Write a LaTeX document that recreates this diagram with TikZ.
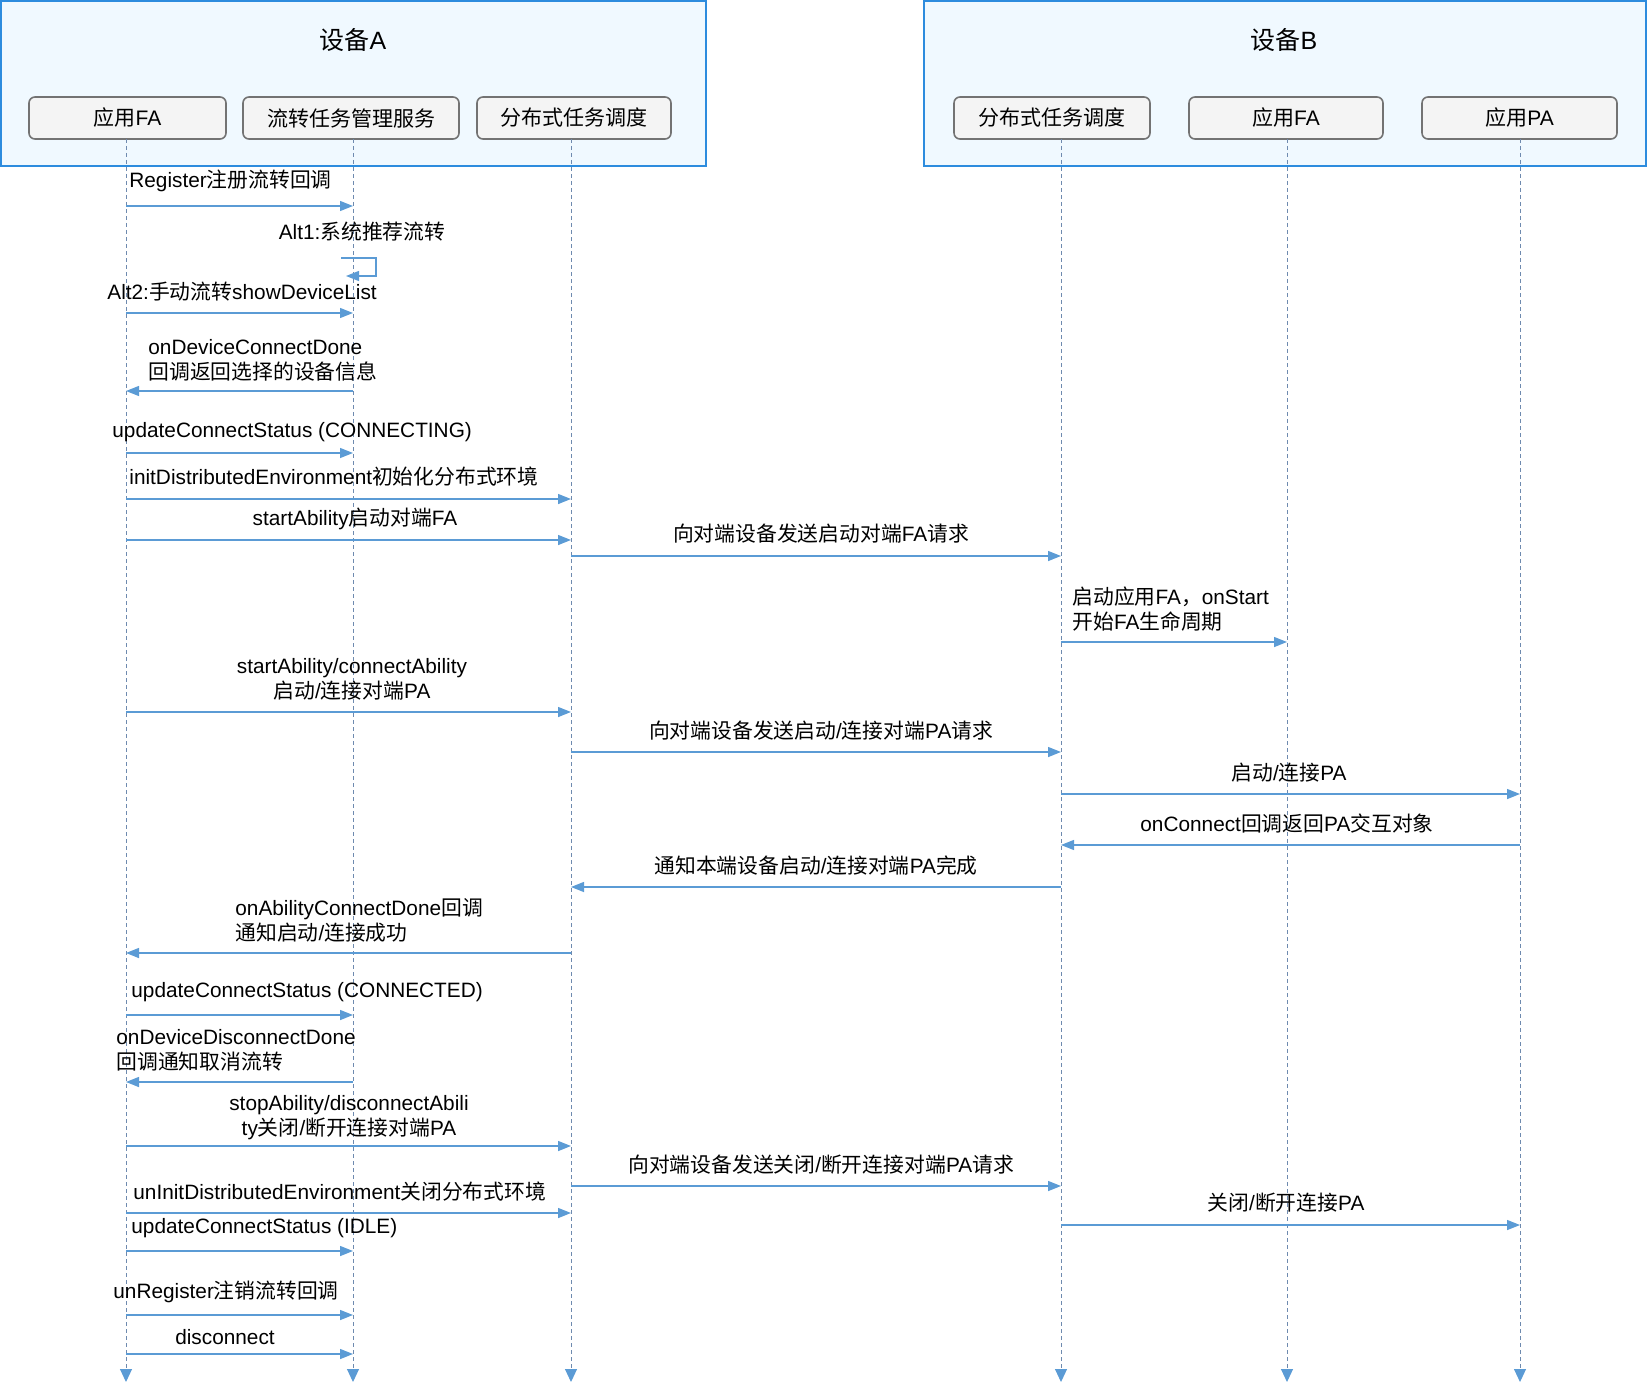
\documentclass[tikz,border=0pt]{standalone}
\usepackage{fontspec}
\setmainfont{Liberation Sans}
\newfontfamily\cjkfont{Noto Sans CJK SC}
\usetikzlibrary{arrows.meta}

% switch to the CJK font for Chinese characters
\XeTeXinterchartokenstate=1
\newXeTeXintercharclass\cjkclass
\newcount\cjkcnt
\cjkcnt="4E00
\loop\XeTeXcharclass\cjkcnt=\cjkclass\advance\cjkcnt by 1 \ifnum\cjkcnt<"A000 \repeat
\XeTeXcharclass"FF0C=\cjkclass
\XeTeXinterchartoks 0 \cjkclass={\cjkfont}
\XeTeXinterchartoks 4095 \cjkclass={\cjkfont}
\XeTeXinterchartoks \cjkclass 0={\normalfont}
\XeTeXinterchartoks \cjkclass 4095={\normalfont}

\definecolor{boxblue}{RGB}{45,140,222}
\definecolor{boxfill}{RGB}{240,249,255}
\definecolor{actgray}{RGB}{115,115,115}
\definecolor{actfill}{RGB}{244,244,244}
\definecolor{msgblue}{RGB}{91,155,213}
\definecolor{lifegray}{RGB}{110,138,175}

\newcommand\msgfont{\fontsize{10.4pt}{12.5pt}\selectfont}
\newcommand\actfont{\fontsize{10.5pt}{12.5pt}\selectfont}
\newcommand\devfont{\fontsize{12.5pt}{15pt}\selectfont}

\tikzset{
  device/.style={draw=boxblue,fill=boxfill,line width=1pt},
  actor/.style={draw=actgray,fill=actfill,line width=0.8pt,rounded corners=3pt,
    minimum height=21pt,inner sep=0pt,font=\actfont},
  life/.style={draw=lifegray,line width=0.5pt,dash pattern=on 2pt off 1.5pt,
    -{Triangle[length=6.5pt,width=6pt,color=msgblue]}},
  msg/.style={draw=msgblue,line width=0.7pt,-{Triangle[length=6.5pt,width=5pt]}},
  lbl/.style={font=\msgfont,inner sep=0pt},
  lbll/.style={lbl,anchor=west,align=left},
}

\begin{document}
\begin{tikzpicture}[x=0.5pt,y=-0.5pt]
  \useasboundingbox (0,0) rectangle (1647,1396);

  % devices
  \draw[device] (1,1) rectangle (706,166);
  \draw[device] (924,1) rectangle (1646,166);
  \node[font=\devfont] (devA) at (353,40) {设备A};
  \node[font=\devfont] (devB) at (1284,40) {设备B};

  \node[actor,minimum width=98.5pt] (faA)  at (127.5,118) {应用FA};
  \node[actor,minimum width=108pt]  (tmsA) at (351,118)   {流转任务管理服务};
  \node[actor,minimum width=97pt]   (dmsA) at (574,118)   {分布式任务调度};
  \node[actor,minimum width=98pt]   (dmsB) at (1052,118)  {分布式任务调度};
  \node[actor,minimum width=97pt]   (faB)  at (1286,118)  {应用FA};
  \node[actor,minimum width=97.5pt] (paB)  at (1519.5,118) {应用PA};

  % lifelines
  \coordinate (a1) at (126,139);
  \coordinate (a2) at (353,139);
  \coordinate (a3) at (571,139);
  \coordinate (b1) at (1061,139);
  \coordinate (b2) at (1287,139);
  \coordinate (b3) at (1520,139);
  \foreach \l in {a1,a2,a3,b1,b2,b3}
    \draw[life] (\l) -- (\l |- 0,1382);

  % messages
  \node[lbll] (m1) at (129,181) {Register注册流转回调};
  \draw[msg] (a1 |- 0,206) -- (a2 |- 0,206);

  \node[lbl] (m2) at (362,232) {Alt1:系统推荐流转};
  \draw[msg] (a2 |- 0,258) ++(-12,0) -- ++(35,0) -- ++(0,18) -- ++(-30,0);

  \node[lbll] (m3) at (107,292) {Alt2:手动流转showDeviceList};
  \draw[msg] (a1 |- 0,313) -- (a2 |- 0,313);

  \node[lbll] (m4) at (148,360) {onDeviceConnectDone\\回调返回选择的设备信息};
  \draw[msg] (a2 |- 0,391) -- (a1 |- 0,391);

  \node[lbll] (m5) at (112,432) {updateConnectStatus (CONNECTING)};
  \draw[msg] (a1 |- 0,453) -- (a2 |- 0,453);

  \node[lbll] (m6) at (129,477) {initDistributedEnvironment初始化分布式环境};
  \draw[msg] (a1 |- 0,499) -- (a3 |- 0,499);

  \node[lbl] (m7) at (355,519) {startAbility启动对端FA};
  \draw[msg] (a1 |- 0,540) -- (a3 |- 0,540);

  \node[lbl] (m8) at (821,534) {向对端设备发送启动对端FA请求};
  \draw[msg] (a3 |- 0,556) -- (b1 |- 0,556);

  \node[lbll] (m9) at (1072,609) {启动应用FA，onStart\\开始FA生命周期};
  \draw[msg] (b1 |- 0,642) -- (b2 |- 0,642);

  \node[lbl,align=center] (m10) at (352,679) {startAbility/connectAbility\\启动/连接对端PA};
  \draw[msg] (a1 |- 0,712) -- (a3 |- 0,712);

  \node[lbl] (m11) at (821,731) {向对端设备发送启动/连接对端PA请求};
  \draw[msg] (a3 |- 0,752) -- (b1 |- 0,752);

  \node[lbl] (m12) at (1289,773) {启动/连接PA};
  \draw[msg] (b1 |- 0,794) -- (b3 |- 0,794);

  \node[lbl] (m13) at (1287,824) {onConnect回调返回PA交互对象};
  \draw[msg] (b3 |- 0,845) -- (b1 |- 0,845);

  \node[lbl] (m14) at (816,866) {通知本端设备启动/连接对端PA完成};
  \draw[msg] (b1 |- 0,887) -- (a3 |- 0,887);

  \node[lbll] (m15) at (235,920) {onAbilityConnectDone回调\\通知启动/连接成功};
  \draw[msg] (a3 |- 0,953) -- (a1 |- 0,953);

  \node[lbll] (m16) at (131,992) {updateConnectStatus (CONNECTED)};
  \draw[msg] (a1 |- 0,1015) -- (a2 |- 0,1015);

  \node[lbll] (m17) at (116,1050) {onDeviceDisconnectDone\\回调通知取消流转};
  \draw[msg] (a2 |- 0,1082) -- (a1 |- 0,1082);

  \node[lbl,align=center] (m18) at (349,1118) {stopAbility/disconnectAbili\\ty关闭/断开连接对端PA};
  \draw[msg] (a1 |- 0,1146) -- (a3 |- 0,1146);

  \node[lbl] (m19) at (821,1165) {向对端设备发送关闭/断开连接对端PA请求};
  \draw[msg] (a3 |- 0,1186) -- (b1 |- 0,1186);

  \node[lbll] (m20) at (133,1192) {unInitDistributedEnvironment关闭分布式环境};
  \draw[msg] (a1 |- 0,1213) -- (a3 |- 0,1213);

  \node[lbl] (m21) at (1286,1203) {关闭/断开连接PA};
  \draw[msg] (b1 |- 0,1225) -- (b3 |- 0,1225);

  \node[lbll] (m22) at (131,1228) {updateConnectStatus (IDLE)};
  \draw[msg] (a1 |- 0,1251) -- (a2 |- 0,1251);

  \node[lbll] (m23) at (113,1292) {unRegister注销流转回调};
  \draw[msg] (a1 |- 0,1315) -- (a2 |- 0,1315);

  \node[lbl] (m24) at (225,1337) {disconnect};
  \draw[msg] (a1 |- 0,1354) -- (a2 |- 0,1354);
\end{tikzpicture}
\end{document}
